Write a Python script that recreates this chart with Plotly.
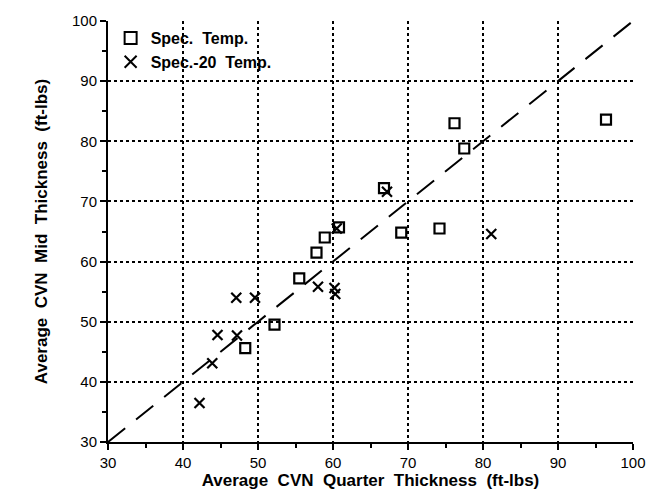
import plotly.graph_objects as go

# Average CVN impact energy (ft-lbs): quarter thickness vs mid thickness
spec_quarter = [52.2, 55.5, 57.8, 58.9, 60.8, 66.8, 69.1, 74.2, 76.2, 77.5, 96.4, 48.3]
spec_mid = [49.5, 57.2, 61.5, 64.0, 65.7, 72.2, 64.8, 65.5, 83.0, 78.8, 83.6, 45.6]

minus20_quarter = [42.2, 43.9, 44.6, 47.2, 47.1, 49.6, 58.0, 60.2, 60.3, 60.5, 67.2, 81.1]
minus20_mid = [36.5, 43.1, 47.8, 47.7, 54.0, 54.0, 55.8, 55.6, 54.6, 65.5, 71.6, 64.6]

equality = [30, 100]

tick_vals = [30, 40, 50, 60, 70, 80, 90, 100]
tick_text = ["30", "40", "50", "60", "70", "80", "90", "100"]

FONT = "Liberation Sans"

fig = go.Figure()

fig.add_trace(go.Scatter(
    x=equality, y=equality, mode="lines",
    line=dict(color="black", width=2, dash="22px,14px"),
    showlegend=False, hoverinfo="skip",
))

fig.add_trace(go.Scatter(
    x=spec_quarter, y=spec_mid, mode="markers",
    name="<b>Spec.  Temp.</b>",
    marker=dict(symbol="square-open", size=10, color="black",
                line=dict(color="black", width=2.2)),
))

fig.add_trace(go.Scatter(
    x=minus20_quarter, y=minus20_mid, mode="markers",
    name="<b>Spec.-20  Temp.</b>",
    marker=dict(symbol="x-thin-open", size=10, color="black",
                line=dict(color="black", width=2.2)),
))

axis_common = dict(
    range=[30, 100],
    tickvals=tick_vals, ticktext=tick_text,
    showgrid=True, gridcolor="black", griddash="dot", gridwidth=1.5,
    showline=True, linecolor="black", linewidth=2,
    ticks="outside", ticklen=6, tickwidth=1.5, tickcolor="black",
    minor=dict(dtick=5, ticks="outside", ticklen=4, tickwidth=1.5,
               tickcolor="black", showgrid=False),
    tickfont=dict(family=FONT, size=15, color="black"),
    zeroline=False,
)

fig.update_xaxes(
    **axis_common,
    title=dict(text="<b>Average  CVN  Quarter  Thickness  (ft-lbs)</b>",
               font=dict(family=FONT, size=17, color="black"), standoff=2),
)
fig.update_yaxes(
    **axis_common,
    title=dict(text="<b>Average  CVN  Mid  Thickness  (ft-lbs)</b>",
               font=dict(family=FONT, size=17, color="black"), standoff=20),
)

fig.update_layout(
    width=658, height=498,
    margin=dict(l=108, r=15, t=18, b=56),
    paper_bgcolor="white", plot_bgcolor="white",
    legend=dict(
        x=0.005, y=1.0, xanchor="left", yanchor="top",
        bgcolor="rgba(0,0,0,0)",
        font=dict(family=FONT, size=16, color="black"),
        itemsizing="constant", tracegroupgap=0,
    ),
)

fig.write_html("out.html")
